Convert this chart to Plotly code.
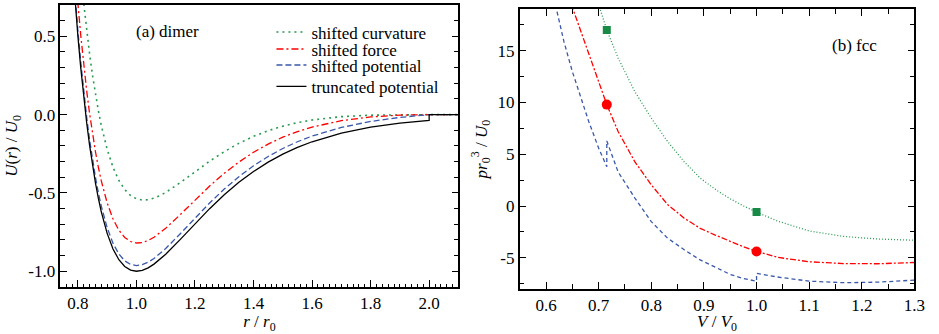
import plotly.graph_objects as go

# ---------------- (a) dimer ----------------
r_vals = [0.78, 0.79, 0.80, 0.81, 0.82, 0.83, 0.84, 0.85, 0.86, 0.87, 0.88, 0.90, 0.92, 0.94, 0.96, 0.98,
          1.00, 1.02, 1.04, 1.06, 1.08, 1.10, 1.15, 1.20, 1.25, 1.30, 1.35, 1.40, 1.45, 1.50,
          1.55, 1.60, 1.70, 1.80, 1.90, 2.00]
u_truncated = [0.9906, 0.7329, 0.5018, 0.2957, 0.1118, -0.0515, -0.1963, -0.3242, -0.4365, -0.5349, -0.6204,
               -0.7581, -0.8578, -0.9264, -0.9699, -0.9931, -1.0000, -0.9941, -0.9781, -0.9545, -0.9250,
               -0.8913, -0.7964, -0.6967, -0.6004, -0.5117, -0.4324, -0.3630, -0.3033, -0.2523,
               -0.2093, -0.1732, -0.1179, -0.0799, -0.0539, -0.0363]
u_shift_pot = [1.0269, 0.7692, 0.5381, 0.3320, 0.1481, -0.0152, -0.1600, -0.2879, -0.4002, -0.4986, -0.5841,
               -0.7218, -0.8215, -0.8901, -0.9336, -0.9568, -0.9637, -0.9578, -0.9418, -0.9182, -0.8887,
               -0.8550, -0.7601, -0.6604, -0.5641, -0.4754, -0.3961, -0.3267, -0.2670, -0.2160,
               -0.1730, -0.1369, -0.0816, -0.0436, -0.0176, 0.0]
u_shift_force = [1.2024, 0.9433, 0.7107, 0.5032, 0.3178, 0.1531, 0.0069, -0.1225, -0.2362, -0.3360, -0.4230,
                 -0.5636, -0.6661, -0.7376, -0.7840, -0.8101, -0.8198, -0.8168, -0.8037, -0.7830, -0.7564,
                 -0.7255, -0.6378, -0.5453, -0.4562, -0.3747, -0.3026, -0.2404, -0.1879, -0.1441,
                 -0.1083, -0.0794, -0.0384, -0.0148, -0.0032, 0.0]
u_shift_curv = [1.6226, 1.3566, 1.1172, 0.9030, 0.7109, 0.5396, 0.3868, 0.2509, 0.1307, 0.0245, -0.0689,
                -0.2220, -0.3368, -0.4204, -0.4786, -0.5164, -0.5375, -0.5457, -0.5435, -0.5335, -0.5174,
                -0.4968, -0.4338, -0.3646, -0.2974, -0.2364, -0.1833, -0.1388, -0.1025, -0.0735,
                -0.0511, -0.0342, -0.0130, -0.0035, -0.0004, 0.0]
r_tail = [2.00, 2.10]
u_tail = [0.0, 0.0]

a_xticks = [0.8, 1.0, 1.2, 1.4, 1.6, 1.8, 2.0]
a_xtext = ["0.8", "1.0", "1.2", "1.4", "1.6", "1.8", "2.0"]
a_yticks = [-1.0, -0.5, 0.0, 0.5]
a_ytext = ["-1.0", "-0.5", "0.0", "0.5"]

# ---------------- (b) fcc ----------------
v_sp = [0.615, 0.634, 0.650, 0.666, 0.681, 0.700, 0.7155, 0.7155, 0.737, 0.7686, 0.800, 0.831, 0.862,
        0.893, 0.925, 0.950, 0.975, 1.000, 1.000, 1.040, 1.100, 1.165, 1.230, 1.300]
p_sp = [20.1, 15.9, 13.0, 10.4, 8.2, 5.6, 3.8, 6.3, 3.3, 0.8, -1.5, -3.1, -4.2,
        -5.2, -6.0, -6.6, -7.0, -7.25, -6.5, -6.85, -7.25, -7.4, -7.35, -7.15]
v_sf = [0.648, 0.675, 0.694, 0.7155, 0.737, 0.7686, 0.800, 0.831, 0.862, 0.893, 0.9215, 0.950, 0.975,
        1.000, 1.040, 1.100, 1.165, 1.230, 1.300]
p_sf = [19.5, 15.6, 12.7, 9.8, 7.2, 4.3, 2.05, 0.15, -1.15, -2.15, -2.8, -3.42, -3.93,
        -4.38, -4.95, -5.38, -5.55, -5.57, -5.45]
v_sc = [0.700, 0.7155, 0.737, 0.7686, 0.800, 0.831, 0.862, 0.893, 0.925, 0.950, 0.975, 1.000,
        1.040, 1.100, 1.165, 1.230, 1.300]
p_sc = [19.5, 17.0, 14.3, 11.07, 8.5, 6.24, 4.31, 2.7, 1.5, 0.7, 0.02, -0.58,
        -1.45, -2.4, -2.93, -3.18, -3.3]
v_marks = [0.7155, 1.000]
p_sc_marks = [17.0, -0.58]
p_sf_marks = [9.8, -4.38]

b_xticks = [0.6, 0.7, 0.8, 0.9, 1.0, 1.1, 1.2, 1.3]
b_xtext = ["0.6", "0.7", "0.8", "0.9", "1.0", "1.1", "1.2", "1.3"]
b_yticks = [-5, 0, 5, 10, 15]
b_ytext = ["-5", "0", "5", "10", "15"]

GREEN = "#2a9a52"
GREEN_M = "#178a45"
RED = "#ff0000"
BLUE = "#3a58aa"
FONT = "Liberation Serif, Times New Roman, serif"
FS = 17

fig = go.Figure()

# left panel (each line in its own one-item legend so entries can sit as in the reference)
fig.add_trace(go.Scatter(x=r_vals + r_tail, y=u_shift_curv + u_tail, mode="lines", name="shifted curvature",
                         line=dict(color=GREEN, width=1.6, dash="2px,4px"), xaxis="x", yaxis="y",
                         legend="legend"))
fig.add_trace(go.Scatter(x=r_vals + r_tail, y=u_shift_force + u_tail, mode="lines", name="shifted force",
                         line=dict(color=RED, width=1.3, dash="7px,3px,2px,3px"), xaxis="x", yaxis="y",
                         legend="legend2"))
fig.add_trace(go.Scatter(x=r_vals + r_tail, y=u_shift_pot + u_tail, mode="lines", name="shifted potential",
                         line=dict(color=BLUE, width=1.3, dash="6px,3px"), xaxis="x", yaxis="y",
                         legend="legend3"))
fig.add_trace(go.Scatter(x=r_vals + r_tail, y=u_truncated + u_tail, mode="lines", name="truncated potential",
                         line=dict(color="black", width=1.3), xaxis="x", yaxis="y",
                         legend="legend4"))

# right panel
fig.add_trace(go.Scatter(x=v_sc, y=p_sc, mode="lines", showlegend=False,
                         line=dict(color=GREEN, width=1.3, dash="1px,2px"), xaxis="x2", yaxis="y2"))
fig.add_trace(go.Scatter(x=v_sf, y=p_sf, mode="lines", showlegend=False,
                         line=dict(color=RED, width=1.3, dash="6px,2px,2px,2px"), xaxis="x2", yaxis="y2"))
fig.add_trace(go.Scatter(x=v_sp, y=p_sp, mode="lines", showlegend=False,
                         line=dict(color=BLUE, width=1.3, dash="4px,3px"), xaxis="x2", yaxis="y2"))
fig.add_trace(go.Scatter(x=v_marks, y=p_sc_marks, mode="markers", showlegend=False,
                         marker=dict(symbol="square", size=8, color=GREEN_M), xaxis="x2", yaxis="y2"))
fig.add_trace(go.Scatter(x=v_marks, y=p_sf_marks, mode="markers", showlegend=False,
                         marker=dict(symbol="circle", size=10, color=RED), xaxis="x2", yaxis="y2"))

tickfont = dict(family=FONT, size=FS, color="black")
titlefont = dict(family=FONT, size=FS, color="black")
common = dict(showline=True, linecolor="black", linewidth=1.5, ticks="inside", tickcolor="black",
              tickwidth=1.2, showgrid=False, zeroline=False, tickfont=tickfont)


def leg(ypos):
    return dict(x=0.2925, y=ypos, xanchor="left", yanchor="middle", bgcolor="rgba(0,0,0,0)",
                font=dict(family=FONT, size=FS, color="black"), itemwidth=30)


fig.update_layout(
    width=939, height=334, margin=dict(l=0, r=0, t=0, b=0),
    paper_bgcolor="white", plot_bgcolor="white",
    font=dict(family=FONT, size=FS, color="black"),
    xaxis=dict(domain=[0.065, 0.494], range=[0.74, 2.1], anchor="y", mirror=True,
               tickmode="array", tickvals=a_xticks, ticktext=a_xtext, ticklen=7,
               minor=dict(dtick=0.02, tick0=0, ticks="inside", ticklen=3.5, tickcolor="black", tickwidth=1),
               title=dict(text="<i>r</i> / <i>r</i><sub>0</sub>", font=titlefont, standoff=0), **common),
    xaxis3=dict(overlaying="x", side="top", anchor="y", range=[0.74, 2.1], showline=False,
                ticks="inside", tickcolor="black", tickwidth=1.2, ticklen=7,
                tickmode="array", tickvals=a_xticks, showticklabels=False, showgrid=False, zeroline=False),
    yaxis=dict(domain=[0.141, 0.985], range=[-1.1, 0.7], anchor="x", mirror="ticks",
               tickmode="array", tickvals=a_yticks, ticktext=a_ytext, ticklen=7,
               minor=dict(dtick=0.1, tick0=0, ticks="inside", ticklen=5, tickcolor="black", tickwidth=1),
               title=dict(text="<i>U</i>(<i>r</i>) / <i>U</i><sub>0</sub>", font=titlefont, standoff=6), **common),
    xaxis2=dict(domain=[0.560, 0.9854], range=[0.55, 1.3], anchor="y2", mirror="ticks",
                tickmode="array", tickvals=b_xticks, ticktext=b_xtext, ticklen=7,
                minor=dict(dtick=0.05, tick0=0, ticks="inside", ticklen=5, tickcolor="black", tickwidth=1),
                title=dict(text="<i>V</i> / <i>V</i><sub>0</sub>", font=titlefont, standoff=5), **common),
    yaxis2=dict(domain=[0.135, 0.972], range=[-8, 19], anchor="x2", mirror="ticks",
                tickmode="array", tickvals=b_yticks, ticktext=b_ytext, ticklen=7,
                minor=dict(dtick=2.5, tick0=0, ticks="inside", ticklen=5, tickcolor="black", tickwidth=1),
                title=dict(text="<i>pr</i><sub>0</sub><sup>3</sup> / <i>U</i><sub>0</sub>", font=titlefont, standoff=6),
                **common),
    legend=leg(0.903),
    legend2=leg(0.852),
    legend3=leg(0.804),
    legend4=leg(0.740),
    annotations=[
        dict(text="(a) dimer", x=0.99, y=0.533, xref="x", yref="y", xanchor="left", yanchor="middle",
             showarrow=False, font=dict(family=FONT, size=FS, color="black")),
        dict(text="(b) fcc", x=1.187, y=15.5, xref="x2", yref="y2", xanchor="center", yanchor="middle",
             showarrow=False, font=dict(family=FONT, size=FS, color="black")),
    ],
)

fig.write_html("out.html")
